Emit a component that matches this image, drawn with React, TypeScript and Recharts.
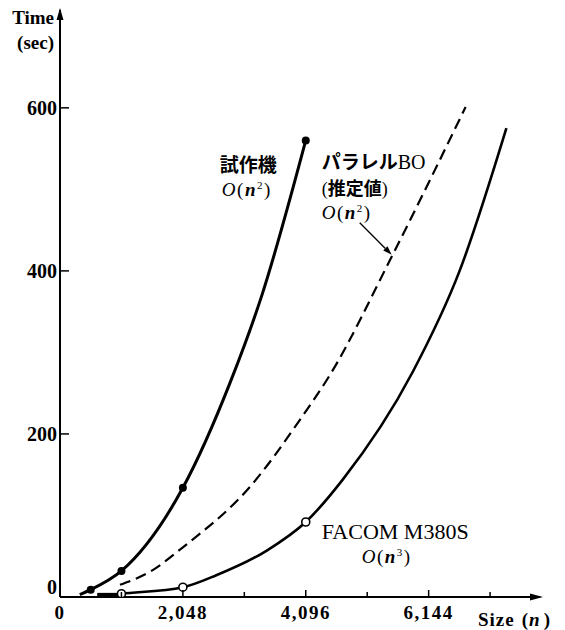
import { ComposedChart, Line, Scatter, XAxis, YAxis, ReferenceDot } from 'recharts';

// 試作機 O(n^2) - measured
const protoCurve = [
  { n: 330, t: 3 },
  { n: 512, t: 9 },
  { n: 1024, t: 32 },
  { n: 2048, t: 134 },
  { n: 2830, t: 262 },
  { n: 3364, t: 370 },
  { n: 4096, t: 560 },
];
const protoMeasured = [
  { n: 512, t: 9 },
  { n: 1024, t: 32 },
  { n: 2048, t: 134 },
  { n: 4096, t: 560 },
];

// パラレルBO (推定値) O(n^2)
const boCurve = [
  { n: 1000, t: 15 },
  { n: 1500, t: 31 },
  { n: 2048, t: 61 },
  { n: 3164, t: 135 },
  { n: 3996, t: 217 },
  { n: 4496, t: 272 },
  { n: 5546, t: 420 },
  { n: 6760, t: 601 },
];

// FACOM M380S O(n^3)
const facomCurve = [
  { n: 640, t: 1 },
  { n: 1024, t: 4 },
  { n: 2048, t: 12 },
  { n: 2614, t: 27 },
  { n: 3447, t: 57 },
  { n: 4096, t: 92 },
  { n: 4712, t: 144 },
  { n: 5878, t: 276 },
  { n: 6660, t: 400 },
  { n: 7440, t: 575 },
];
const facomMeasured = [
  { n: 1024, t: 4 },
  { n: 2048, t: 12 },
  { n: 4096, t: 92 },
];
const facomOverlap = [
  { n: 620, t: 2 },
  { n: 960, t: 2 },
];

const xTicks = [0, 1024, 2048, 3072, 4096, 5120, 6144, 7168];
const xLabeled = [0, 2048, 4096, 6144];
const yTicks = [0, 200, 400, 600];

const SERIF = '"Liberation Serif", "DejaVu Serif", serif';
const CJK = '"Noto Sans CJK JP", "Noto Sans CJK SC", sans-serif';

function XTick({ x, y, payload }: any) {
  const v = payload.value;
  const major = xLabeled.includes(v);
  return (
    <g>
      {v !== 0 && (
        <line x1={x} x2={x} y1={y} y2={y - (major ? 7 : 5)} stroke="#000" strokeWidth={1.5} />
      )}
      {major && (
        <text x={x} y={y + 22} textAnchor="middle" fontFamily={SERIF} fontWeight="bold" fontSize={19} letterSpacing={1.5} fill="#000">
          {v.toLocaleString('en-US')}
        </text>
      )}
    </g>
  );
}

function YTick({ x, y, payload }: any) {
  const v = payload.value;
  return (
    <g>
      {v !== 0 && <line x1={x} x2={x + 9} y1={y} y2={y} stroke="#000" strokeWidth={1.5} />}
      <text x={x - 3} y={v === 0 ? y - 10 : y} dy="0.35em" textAnchor="end" fontFamily={SERIF} fontWeight="bold" fontSize={20} fill="#000">
        {v}
      </text>
    </g>
  );
}

function YAxisLabel({ viewBox }: any) {
  const ax = viewBox.x + viewBox.width;
  const top = viewBox.y;
  return (
    <g>
      <polygon points={`${ax},${top - 2} ${ax - 3.5},${top + 10} ${ax + 3.5},${top + 10}`} fill="#000" />
      <text x={ax - 6} y={top + 14} textAnchor="end" fontFamily={SERIF} fontWeight="bold" fontSize={19} fill="#000">
        Time
      </text>
      <text x={ax - 6} y={top + 39} textAnchor="end" fontFamily={SERIF} fontWeight="bold" fontSize={19} fill="#000">
        (sec)
      </text>
    </g>
  );
}

function XAxisLabel({ viewBox }: any) {
  const right = viewBox.x + viewBox.width;
  const ay = viewBox.y;
  return (
    <g>
      <polygon points={`${right + 3},${ay} ${right - 10},${ay - 3.5} ${right - 10},${ay + 3.5}`} fill="#000" />
      <text x={right - 62} y={ay + 29} fontFamily={SERIF} fontWeight="bold" fontSize={19} letterSpacing={1} fill="#000">
        Size
        <tspan dx={7}>(</tspan>
        <tspan fontStyle="italic">n</tspan>
        <tspan dx={3}>)</tspan>
      </text>
    </g>
  );
}

function OText({ x, y, exp }: { x: number; y: number; exp: string }) {
  return (
    <text x={x} y={y} fontFamily={SERIF} fontSize={19} letterSpacing={1.5} fill="#000">
      <tspan fontStyle="italic">O</tspan>
      <tspan>(</tspan>
      <tspan fontStyle="italic" fontWeight="bold">n</tspan>
      <tspan dy={-7} fontSize={11}>{exp}</tspan>
      <tspan dy={7}>)</tspan>
    </text>
  );
}

function ProtoNote({ viewBox }: any) {
  const { x, y } = viewBox;
  return (
    <g>
      <text x={x} y={y} fontFamily={CJK} fontWeight="bold" fontSize={19} fill="#000">試作機</text>
      <OText x={x + 2} y={y + 24} exp="2" />
    </g>
  );
}

function BoNote({ viewBox }: any) {
  const { x, y } = viewBox;
  const sx = x + 38, sy = y + 53, ex = x + 70, ey = y + 85;
  const len = Math.hypot(ex - sx, ey - sy);
  const ux = (ex - sx) / len, uy = (ey - sy) / len;
  const bx = ex - ux * 9, by = ey - uy * 9;
  return (
    <g>
      <text x={x} y={y - 1} fontFamily={CJK} fontWeight="bold" fontSize={19} fill="#000">
        パラレル<tspan fontFamily={SERIF} fontWeight="normal" fontSize={20}>BO</tspan>
      </text>
      <text x={x} y={y + 25} fontFamily={CJK} fontWeight="bold" fontSize={18} fill="#000">
        <tspan fontFamily={SERIF} fontWeight="normal">(</tspan>推定値<tspan fontFamily={SERIF} fontWeight="normal">)</tspan>
      </text>
      <OText x={x} y={y + 49} exp="2" />
      <line x1={sx} y1={sy} x2={bx} y2={by} stroke="#000" strokeWidth={1.3} />
      <polygon
        points={`${ex},${ey} ${bx - uy * 3},${by + ux * 3} ${bx + uy * 3},${by - ux * 3}`}
        fill="#000"
      />
    </g>
  );
}

function FacomNote({ viewBox }: any) {
  const { x, y } = viewBox;
  return (
    <g>
      <text x={x} y={y} fontFamily={SERIF} fontSize={22} fill="#000">FACOM M380S</text>
      <OText x={x + 40} y={y + 24} exp="3" />
    </g>
  );
}

const filledDot = (p: any) => <circle cx={p.cx} cy={p.cy} r={4} fill="#000" />;
const openDot = (p: any) => <circle cx={p.cx} cy={p.cy} r={4} fill="#fff" stroke="#000" strokeWidth={1.6} />;

export default function App() {
  return (
    <div style={{ position: 'absolute', left: 0, top: 0, width: 565, height: 630, background: '#fff' }}>
      <ComposedChart width={565} height={630} margin={{ top: 10, right: 25, bottom: 3, left: 10 }}>
        <XAxis
          type="number"
          dataKey="n"
          domain={[0, 8000]}
          ticks={xTicks}
          interval={0}
          height={30}
          axisLine={{ stroke: '#000', strokeWidth: 2 }}
          tickLine={false}
          tickSize={0}
          tickMargin={0}
          tick={XTick}
          label={XAxisLabel}
          allowDataOverflow
        />
        <YAxis
          type="number"
          dataKey="t"
          domain={[0, 720]}
          ticks={yTicks}
          interval={0}
          width={50}
          axisLine={{ stroke: '#000', strokeWidth: 2 }}
          tickLine={false}
          tickSize={0}
          tickMargin={0}
          tick={YTick}
          label={YAxisLabel}
          allowDataOverflow
        />
        <Line data={facomOverlap} dataKey="t" type="linear" stroke="#000" strokeWidth={5} dot={false} isAnimationActive={false} />
        <Line data={protoCurve} dataKey="t" type="monotone" stroke="#000" strokeWidth={3} dot={false} isAnimationActive={false} />
        <Line data={boCurve} dataKey="t" type="monotone" stroke="#000" strokeWidth={2.2} strokeDasharray="11 6" dot={false} isAnimationActive={false} />
        <Line data={facomCurve} dataKey="t" type="monotone" stroke="#000" strokeWidth={2.6} dot={false} isAnimationActive={false} />
        <Scatter data={protoMeasured} dataKey="t" shape={filledDot} isAnimationActive={false} />
        <Scatter data={facomMeasured} dataKey="t" shape={openDot} isAnimationActive={false} />
        <ReferenceDot x={2664} y={521} r={0} fill="none" stroke="none" label={ProtoNote} />
        <ReferenceDot x={4362} y={524} r={0} fill="none" stroke="none" label={BoNote} />
        <ReferenceDot x={4362} y={71} r={0} fill="none" stroke="none" label={FacomNote} />
      </ComposedChart>
    </div>
  );
}
